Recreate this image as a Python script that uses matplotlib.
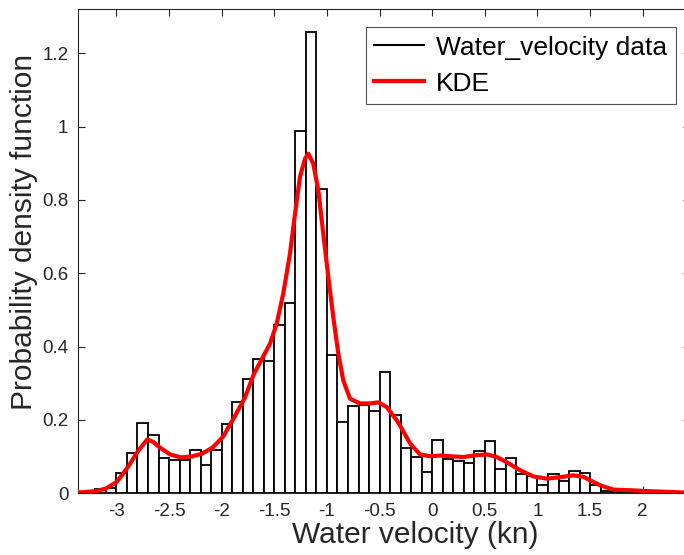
import numpy as np
import matplotlib
matplotlib.use("Agg")
import matplotlib.pyplot as plt
from matplotlib.lines import Line2D

plt.rcParams['font.family'] = ['Liberation Sans', 'DejaVu Sans']
plt.rcParams['axes.unicode_minus'] = False

# histogram (pdf normalised), bins of 0.1 kn starting at -3.2
bin_start = -3.2
bin_width = 0.1
pdf_heights = [0.011, 0.014, 0.055, 0.110, 0.193, 0.158, 0.097, 0.090, 0.092, 0.118,
               0.077, 0.118, 0.189, 0.248, 0.313, 0.367, 0.361, 0.458, 0.520, 0.987,
               1.257, 0.831, 0.377, 0.194, 0.238, 0.240, 0.224, 0.331, 0.213, 0.124,
               0.100, 0.057, 0.146, 0.093, 0.089, 0.083, 0.115, 0.142, 0.066, 0.097,
               0.054, 0.047, 0.024, 0.052, 0.034, 0.061, 0.056, 0.022, 0.005, 0.003,
               0.002, 0.008]

# kernel density estimate
kde_x = [-3.365, -3.193, -3.099, -2.997, -2.897, -2.795, -2.707, -2.650, -2.593, -2.491,
         -2.389, -2.289, -2.187, -2.085, -1.985, -1.883, -1.781, -1.693, -1.591, -1.541,
         -1.477, -1.415, -1.351, -1.303, -1.256, -1.208, -1.177, -1.130, -1.082, -1.035,
         -0.987, -0.940, -0.892, -0.845, -0.781, -0.686, -0.591, -0.512, -0.432, -0.337,
         -0.306, -0.211, -0.116, -0.021, 0.074, 0.169, 0.295, 0.423, 0.518, 0.613,
         0.708, 0.834, 0.960, 1.088, 1.214, 1.340, 1.435, 1.594, 1.721, 1.911,
         2.038, 2.228, 2.392, 2.45]
kde_y = [0.002, 0.006, 0.013, 0.031, 0.069, 0.115, 0.147, 0.140, 0.126, 0.106,
         0.098, 0.100, 0.108, 0.125, 0.155, 0.206, 0.260, 0.326, 0.381, 0.408,
         0.463, 0.545, 0.654, 0.763, 0.863, 0.913, 0.926, 0.899, 0.826, 0.708,
         0.590, 0.481, 0.381, 0.308, 0.258, 0.245, 0.245, 0.248, 0.235, 0.199,
         0.185, 0.136, 0.106, 0.101, 0.103, 0.101, 0.099, 0.104, 0.106, 0.099,
         0.085, 0.063, 0.046, 0.040, 0.044, 0.049, 0.045, 0.022, 0.010, 0.008,
         0.006, 0.004, 0.002, 0.002]

xtick_vals = [-3, -2.5, -2, -1.5, -1, -0.5, 0, 0.5, 1, 1.5, 2]
xtick_labels = ['-3', '-2.5', '-2', '-1.5', '-1', '-0.5', '0', '0.5', '1', '1.5', '2']
ytick_vals = [0, 0.2, 0.4, 0.6, 0.8, 1.0, 1.2]
ytick_labels = ['0', '0.2', '0.4', '0.6', '0.8', '1', '1.2']

fig = plt.figure(figsize=(6.84, 5.55), dpi=100)
ax = fig.add_axes([78/684, 61.7/555, 612/684, 484/555])

edges = bin_start + bin_width*np.arange(len(pdf_heights))
ax.bar(edges, pdf_heights, width=bin_width, align='edge', facecolor='white',
       edgecolor='black', linewidth=1.3, zorder=2)
ax.plot(kde_x, kde_y, color='red', linewidth=3.0, zorder=3, solid_capstyle='butt')

ax.set_xlim(-3.365, 2.449)
ax.set_ylim(0, 1.32)
ax.set_xticks(xtick_vals)
ax.set_xticklabels(xtick_labels)
ax.set_yticks(ytick_vals)
ax.set_yticklabels(ytick_labels)

grey = '#262626'
for s in ax.spines.values():
    s.set_color(grey)
    s.set_linewidth(0.8)
ax.tick_params(direction='in', length=5, width=0.8, colors=grey, labelsize=13.5,
               top=True, right=True, pad=7)
for lab in ax.get_xticklabels() + ax.get_yticklabels():
    lab.set_color(grey)

ax.set_xlabel('Water velocity (kn)', fontsize=21.5, color=grey)
ax.set_ylabel('Probability density function', fontsize=21.5, color=grey)
ax.xaxis.set_label_coords(0.551, -0.058)
ax.yaxis.set_label_coords(-0.066, 0.54)

handles = [Line2D([], [], color='black', linewidth=1.5),
           Line2D([], [], color='red', linewidth=3.0)]
leg = ax.legend(handles, ['Water_velocity data', 'KDE'], loc='upper right',
                bbox_to_anchor=(0.977, 0.963), borderaxespad=0, fontsize=19,
                frameon=True, fancybox=False, handlelength=1.9, handletextpad=0.45,
                labelspacing=0.45, borderpad=0.32)
leg.get_frame().set_edgecolor(grey)
leg.get_frame().set_linewidth(0.8)
for t in leg.get_texts():
    t.set_color('black')

fig.savefig('out.png', dpi=100)
